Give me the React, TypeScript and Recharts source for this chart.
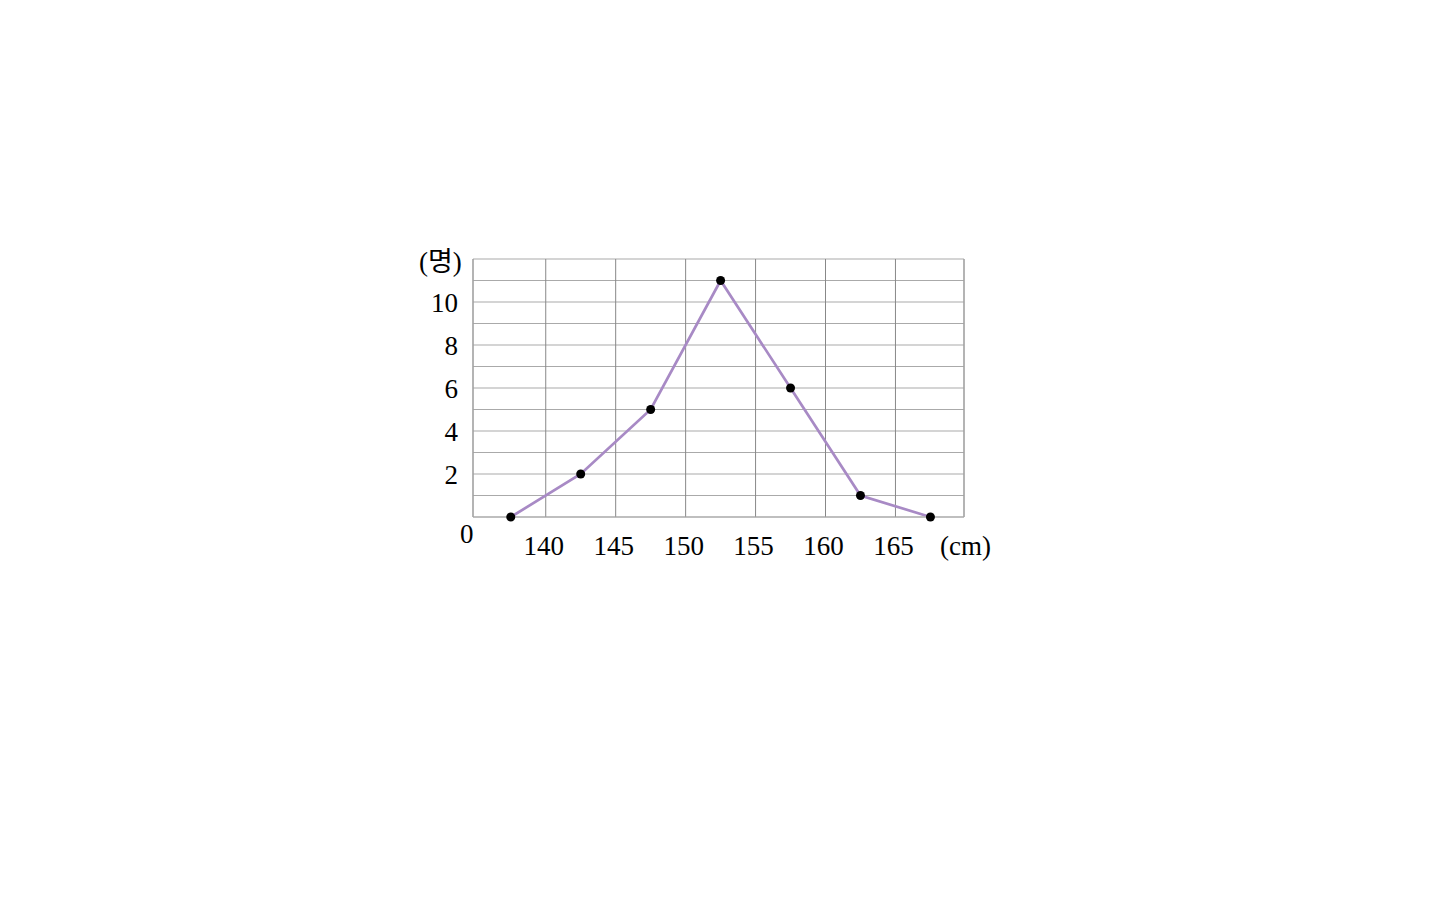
import { LineChart, Line, XAxis, YAxis, CartesianGrid, ReferenceLine } from 'recharts';

const heights = [137.5, 142.5, 147.5, 152.5, 157.5, 162.5, 167.5];
const counts = [0, 2, 5, 11, 6, 1, 0];
const xTicks = [140, 145, 150, 155, 160, 165];
const yGridTicks = [0, 1, 2, 3, 4, 5, 6, 7, 8, 9, 10, 11, 12];
const yLabelTicks = [2, 4, 6, 8, 10];
const xDomain = [134.8, 169.9];
const yDomain = [0, 12];

const data = heights.map((h, i) => ({ height: h, count: counts[i] }));

const font = '"Liberation Serif", "DejaVu Serif", "Noto Sans CJK KR", serif';
const fs = 27;

export default function App() {
  return (
    <div style={{ position: 'absolute', left: 0, top: 0, width: 1440, height: 900, fontFamily: font }}>
      <LineChart
        width={1440}
        height={900}
        data={data}
        margin={{ top: 259, left: 433, right: 476, bottom: 353 }}
      >
        <CartesianGrid horizontal={true} vertical={false} stroke="#aaaaaa" strokeWidth={1.2} />
        <CartesianGrid horizontal={false} vertical={true} stroke="#888888" strokeWidth={1} />
        <XAxis
          type="number"
          dataKey="height"
          domain={xDomain}
          allowDataOverflow
          ticks={xTicks}
          interval={0}
          height={30}
          tickLine={false}
          tickSize={0}
          tickMargin={19}
          axisLine={{ stroke: '#aaaaaa', strokeWidth: 1.2 }}
          tick={{ fill: '#000', fontSize: fs, fontFamily: font, dx: -2 }}
        />
        <YAxis
          type="number"
          domain={yDomain}
          ticks={yGridTicks}
          interval={0}
          width={40}
          tickLine={false}
          tickSize={0}
          tickMargin={15}
          axisLine={{ stroke: '#aaaaaa', strokeWidth: 1.2 }}
          tickFormatter={(v: number) => (yLabelTicks.includes(v) ? String(v) : '')}
          tick={{ fill: '#000', fontSize: fs, fontFamily: font }}
        />
        <ReferenceLine x={xDomain[1]} stroke="#aaaaaa" strokeWidth={1.2} />
        <Line
          type="linear"
          dataKey="count"
          stroke="#a88ac5"
          strokeWidth={2.7}
          dot={{ r: 4.5, fill: '#000', stroke: '#000', strokeWidth: 0 }}
          isAnimationActive={false}
        />
      </LineChart>
      <div style={{ position: 'absolute', left: 419, top: 247, fontSize: fs, lineHeight: '30px' }}>(명)</div>
      <div style={{ position: 'absolute', left: 460, top: 519, fontSize: fs, lineHeight: '30px' }}>0</div>
      <div style={{ position: 'absolute', left: 940, top: 531, fontSize: fs, lineHeight: '30px' }}>(cm)</div>
    </div>
  );
}
